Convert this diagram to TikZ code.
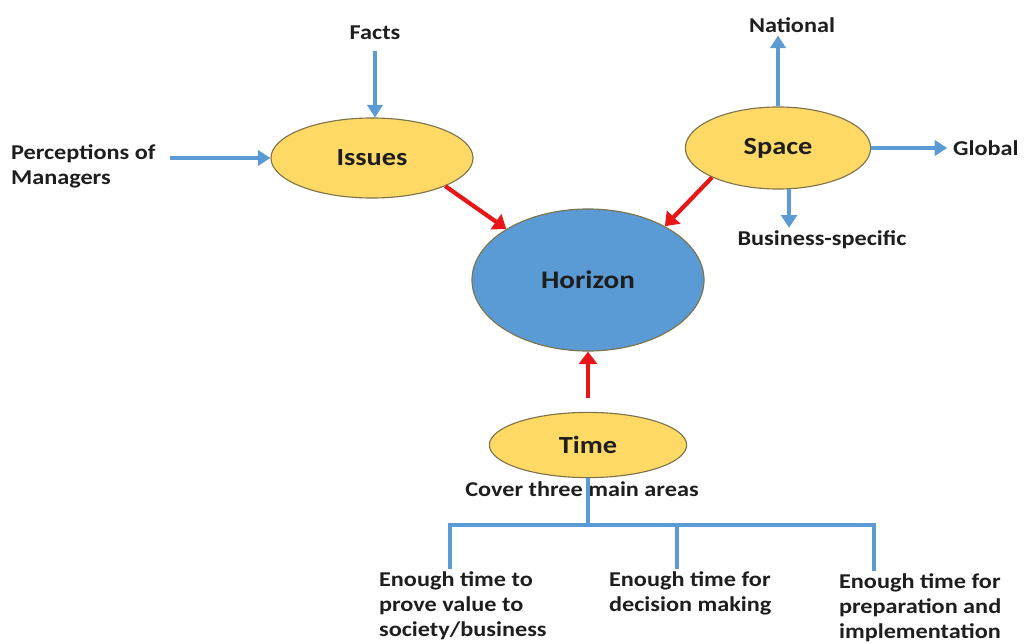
\documentclass[tikz,border=0pt]{standalone}
\usepackage{fontspec}
\setmainfont[FakeStretch=1.15]{Carlito}
\usetikzlibrary{arrows.meta,positioning,calc,shapes.geometric}
\usepackage{xcolor}
\definecolor{softyellow}{RGB}{255,217,102}
\definecolor{softblue}{RGB}{91,155,213}
\definecolor{edgegray}{RGB}{125,115,75}
\definecolor{brightred}{RGB}{232,22,22}
\definecolor{inkdark}{RGB}{30,30,30}

\tikzset{
  topic/.style={ellipse,draw=edgegray,fill=softyellow,line width=0.8pt,inner sep=0pt,
    text=inkdark,font=\bfseries\fontsize{17.5}{20}\selectfont},
  hub/.style={ellipse,draw=edgegray,fill=softblue,line width=0.8pt,inner sep=0pt,
    text=inkdark,font=\bfseries\fontsize{18}{20}\selectfont},
  note/.style={text=inkdark,inner sep=2pt,font=\bfseries\fontsize{15}{17.7}\selectfont},
  feed/.style={-{Triangle[width=11pt,length=9pt]},softblue,line width=2.6pt},
  pull/.style={-{Triangle[width=13pt,length=9pt]},brightred,line width=3pt},
  branch/.style={softblue,line width=2.4pt}
}

\begin{document}
\begin{tikzpicture}[x=0.025cm,y=-0.025cm]
        \useasboundingbox (0,0) rectangle (1027,644);

        % Ellipses
        \node[topic,minimum width=5.05cm,minimum height=2cm] (issues) at (372,158) {Issues};
        \node[topic,minimum width=4.63cm,minimum height=2.05cm] (space) at (778,148) {Space};
        \node[hub,minimum width=5.8cm,minimum height=3.55cm] (horizon) at (588,280) {Horizon};
        \node[topic,minimum width=4.93cm,minimum height=1.63cm] (time) at (588,445) {Time};

        % Inputs of issues
        \node[note] (facts) at (375,33) {Facts};
        \node[note,align=left,anchor=west] (managers) at (8,166) {Perceptions of\\Managers};

        % Outputs of space
        \node[note] (national) at (792,25) {National};
        \node[note,anchor=west] (global) at (950,148) {Global};
        \node[note] (business) at (822,240) {Business-specific};

        % Time areas
        \node[note] (cover) at (582,489) {Cover three main areas};
        \node[note,align=left,anchor=north west] (prove) at (376,569) {Enough time to\\prove value to\\society/business};
        \node[note,align=left,anchor=north west] (decide) at (606,569) {Enough time for\\decision making};
        \node[note,align=left,anchor=north west] (prepare) at (836,571) {Enough time for\\preparation and\\implementation};

        % Blue arrows
        \draw[feed,shorten <=6pt] (facts.south) -- (facts.south |- issues.north);
        \draw[feed,shorten <=8pt] (managers.east |- issues.west) -- (issues.west);
        \draw[feed] (space.north) -- (space.north |- national.south);
        \draw[feed,shorten >=2pt] (space.east) -- (global.west);
        \draw[feed] (space.-75) -- (space.-75 |- business.north);

        % Red arrows
        \draw[pull] (issues.-21) -- (horizon.148);
        \draw[pull] (space.-156) -- (horizon.35);
        \draw[pull,shorten <=10pt] (time.north) -- (horizon.south);

        % Tree
        \coordinate (leftdrop) at (450,525);
        \coordinate (middrop) at (677,525);
        \coordinate (rightdrop) at (874,525);
        \draw[branch] (time.south) -- (time.south |- leftdrop);
        \draw[branch] (leftdrop |- prove.north) -- (leftdrop) -- (rightdrop) -- (rightdrop |- prepare.north);
        \draw[branch] (middrop) -- (middrop |- decide.north);
\end{tikzpicture}
\end{document}
